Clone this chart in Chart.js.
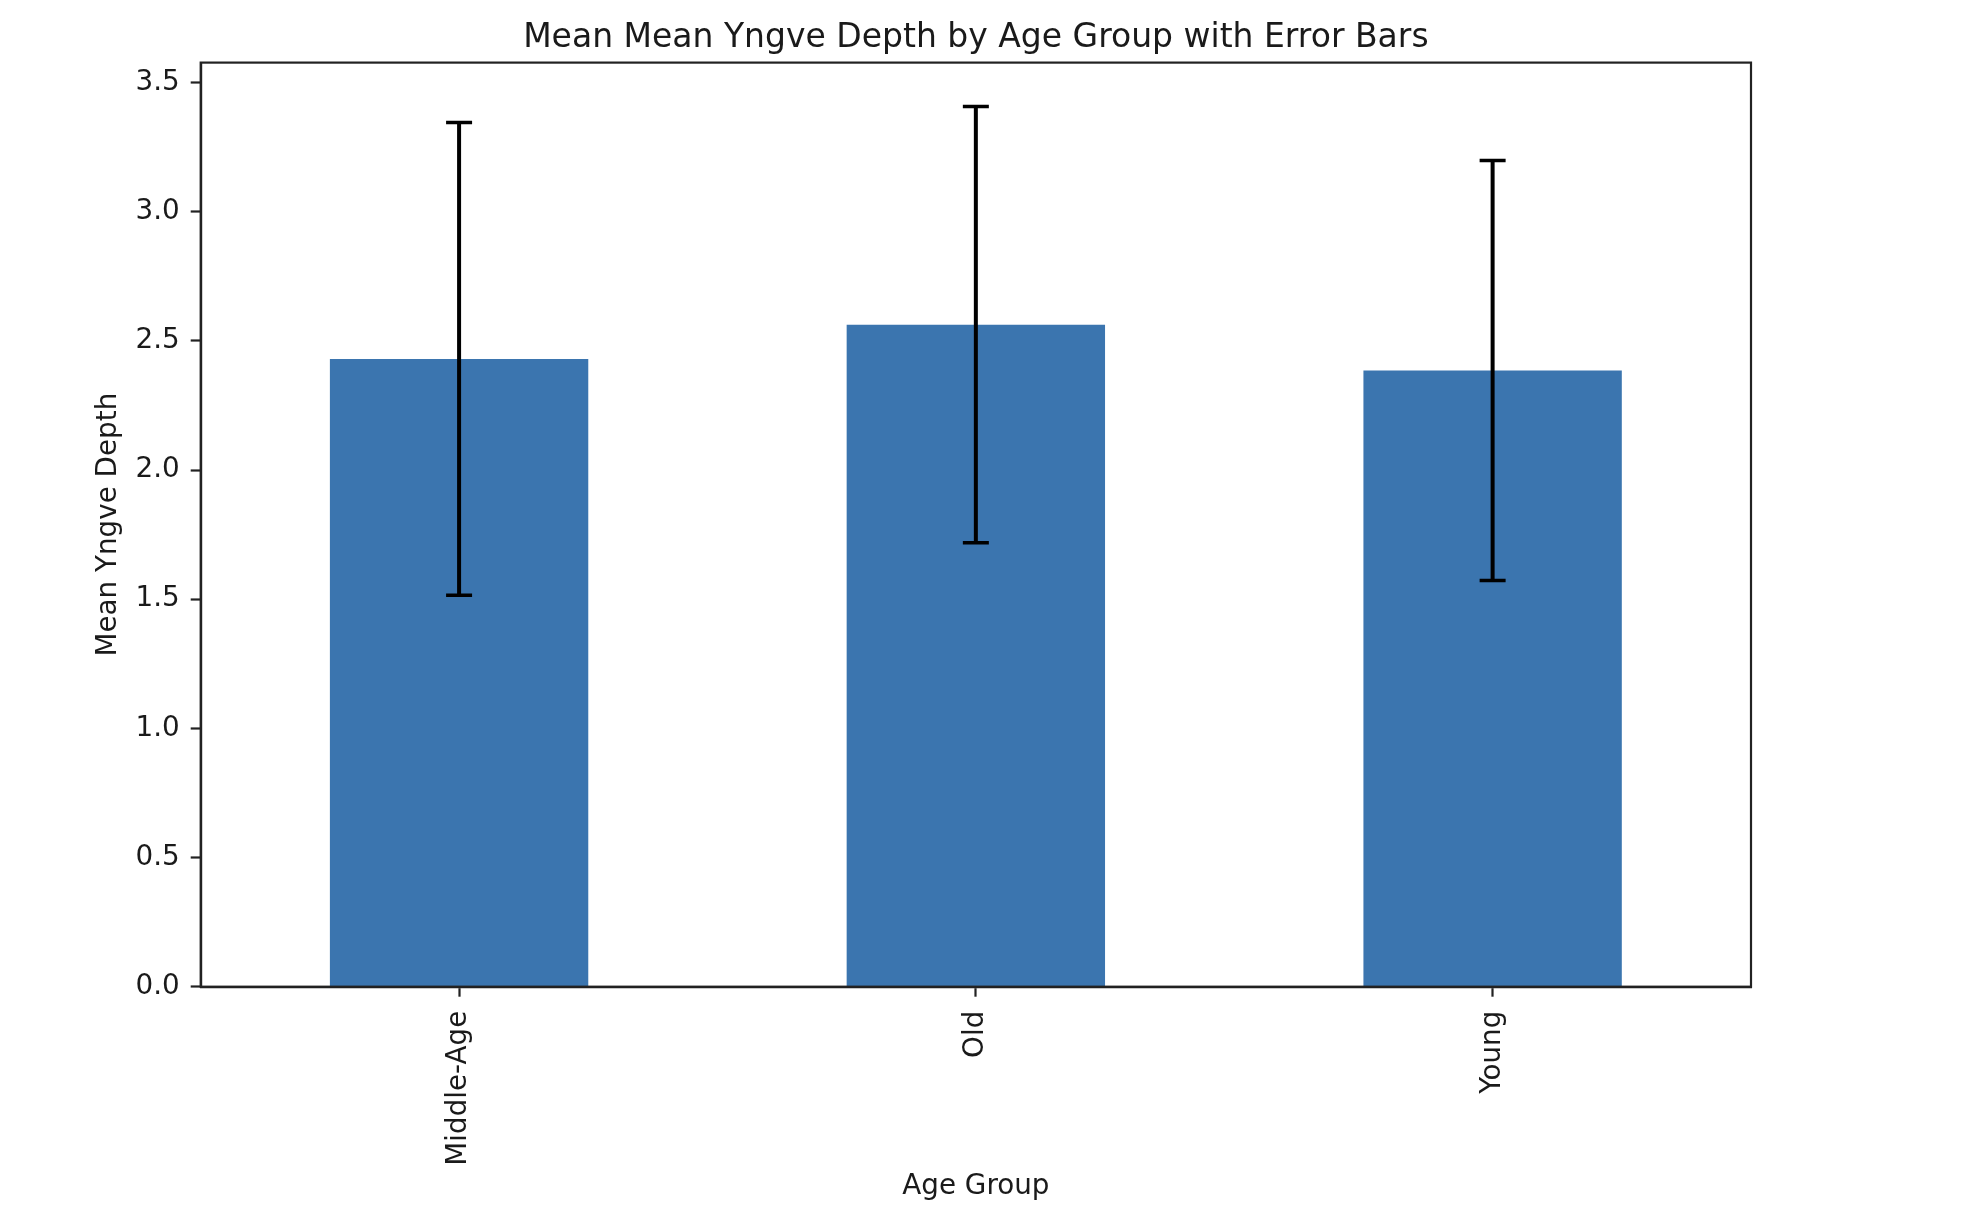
<!DOCTYPE html>
<html>
<head>
<meta charset="utf-8">
<title>Mean Yngve Depth by Age Group</title>
<script src="https://cdn.jsdelivr.net/npm/chart.js@4.4.1/dist/chart.umd.min.js"></script>
<style>
    html, body { margin: 0; padding: 0; background: #ffffff; }
    canvas { display: block; }
</style>
</head>
<body>
<canvas id="yngveChart" width="1974" height="1210"></canvas>
<script>
// Datos
const ageGroups = ['Middle-Age', 'Old', 'Young'];
const meanDepth = [2.43, 2.563, 2.385];
const errDepth = [0.915, 0.844, 0.813];
const yTicks = [0.0, 0.5, 1.0, 1.5, 2.0, 2.5, 3.0, 3.5];

// límite superior como en matplotlib (margen del 5%)
const yMax = Math.max(...meanDepth.map((m, i) => m + errDepth[i])) * 1.05;

const FONT = 'DejaVu Sans';
const INK = '#1a1a1a';

// Barras de error dibujadas con las escalas del gráfico
const errorBars = {
    id: 'errorBars',
    afterDatasetsDraw(chart) {
        const ctx = chart.ctx;
        const x = chart.scales.x, y = chart.scales.y;
        ctx.save();
        ctx.strokeStyle = '#000000';
        meanDepth.forEach((m, i) => {
            const px = x.getPixelForValue(i);
            const top = y.getPixelForValue(m + errDepth[i]);
            const bot = y.getPixelForValue(m - errDepth[i]);
            ctx.lineWidth = 4;
            ctx.beginPath();
            ctx.moveTo(px, top);
            ctx.lineTo(px, bot);
            ctx.stroke();
            ctx.lineWidth = 3.5;
            ctx.beginPath();
            ctx.moveTo(px - 13, top); ctx.lineTo(px + 13, top);
            ctx.moveTo(px - 13, bot); ctx.lineTo(px + 13, bot);
            ctx.stroke();
        });
        ctx.restore();
    }
};

// Marco completo alrededor del área del gráfico
const frame = {
    id: 'frame',
    afterDraw(chart) {
        const a = chart.chartArea;
        const ctx = chart.ctx;
        ctx.save();
        ctx.strokeStyle = '#222222';
        ctx.lineWidth = 2.2;
        ctx.strokeRect(a.left, a.top, a.right - a.left, a.bottom - a.top);
        ctx.restore();
    }
};

new Chart(document.getElementById('yngveChart'), {
    type: 'bar',
    data: {
        labels: ageGroups,
        datasets: [{
            label: 'Mean Yngve Depth',
            data: meanDepth,
            backgroundColor: '#3b75af',
            borderWidth: 0,
            categoryPercentage: 1.0,
            barPercentage: 0.5
        }]
    },
    options: {
        responsive: false,
        animation: false,
        devicePixelRatio: 1,
        layout: { padding: { left: 0, right: 223, top: 0, bottom: 0 } },
        plugins: {
            legend: { display: false },
            tooltip: { enabled: false },
            title: {
                display: true,
                text: 'Mean Mean Yngve Depth by Age Group with Error Bars',
                fullSize: false,
                color: INK,
                font: { family: FONT, size: 33, weight: 'normal' },
                padding: { top: 19, bottom: 4 }
            }
        },
        scales: {
            x: {
                grid: { display: true, offset: false, drawOnChartArea: false, drawTicks: true, tickLength: 10, tickWidth: 2.2, tickColor: '#222222' },
                border: { display: true, color: '#222222', width: 2.2 },
                ticks: {
                    autoSkip: false,
                    minRotation: 90,
                    maxRotation: 90,
                    padding: 14,
                    color: INK,
                    font: { family: FONT, size: 27.8 }
                },
                title: {
                    display: true,
                    text: 'Age Group',
                    color: INK,
                    font: { family: FONT, size: 27.8 },
                    padding: { top: 0, bottom: 7 }
                },
                afterFit(scale) { scale.height = 223.3; }
            },
            y: {
                min: 0,
                max: yMax,
                grid: { display: true, drawOnChartArea: false, drawTicks: true, tickLength: 10, tickWidth: 2.2, tickColor: '#222222' },
                border: { display: true, color: '#222222', width: 2.2 },
                ticks: {
                    padding: 11,
                    color: INK,
                    font: { family: FONT, size: 27.8 },
                    callback: (v) => Number(v).toFixed(1)
                },
                afterBuildTicks(scale) {
                    scale.ticks = yTicks.map(v => ({ value: v }));
                },
                title: {
                    display: true,
                    text: 'Mean Yngve Depth',
                    color: INK,
                    font: { family: FONT, size: 27.8 },
                    padding: { top: 92, bottom: 0 }
                },
                afterFit(scale) { scale.width = 200.7; }
            }
        }
    },
    plugins: [errorBars, frame]
});
</script>
</body>
</html>
